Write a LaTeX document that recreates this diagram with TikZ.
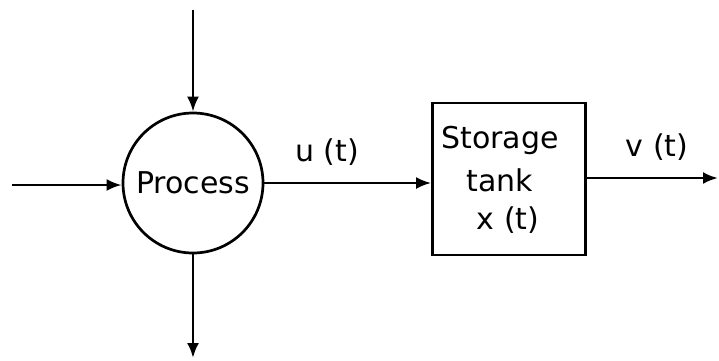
\documentclass[tikz,border=0pt]{standalone}
\usepackage{fontspec}
\setmainfont{DejaVu Sans}
\usetikzlibrary{arrows.meta}
\begin{document}
\begin{tikzpicture}[x=1pt,y=-1pt,
  line width=2.7pt,
  flow/.style={-{Latex[length=15pt,width=12pt]}},
  lbl/.style={font=\fontsize{30}{34}\selectfont,inner sep=0pt},
  proc/.style={circle,draw,minimum size=140pt,inner sep=0pt,font=\fontsize{30}{34}\selectfont},
  tank/.style={draw,minimum width=153pt,minimum height=152pt,inner sep=0pt}]
\useasboundingbox (0,0) rectangle (719,360);
\node[proc] (p) at (193,183) {Process};
\node[tank] (t) at (509,179) {};
\node[lbl] (s1) at (500,140) {Storage};
\node[lbl] (s2) at (500,180) {tank};
\node[lbl] (s3) at (508,220) {x (t)};
\coordinate (inL) at (12,185);
\coordinate (inT) at (193,10);
\coordinate (outB) at (193,358);
\coordinate (outR) at (718,178);
\draw[flow] (inL) -- (inL -| p.west);
\draw[flow] (inT) -- (p.north);
\draw[flow] (p.south) -- (outB);
\draw[flow] (p.east) -- (p.east -| t.west);
\draw[flow] (t.east |- outR) -- (outR);
\node[lbl] (u) at (327,152) {u (t)};
\node[lbl] (v) at (657,147) {v (t)};
\end{tikzpicture}
\end{document}
